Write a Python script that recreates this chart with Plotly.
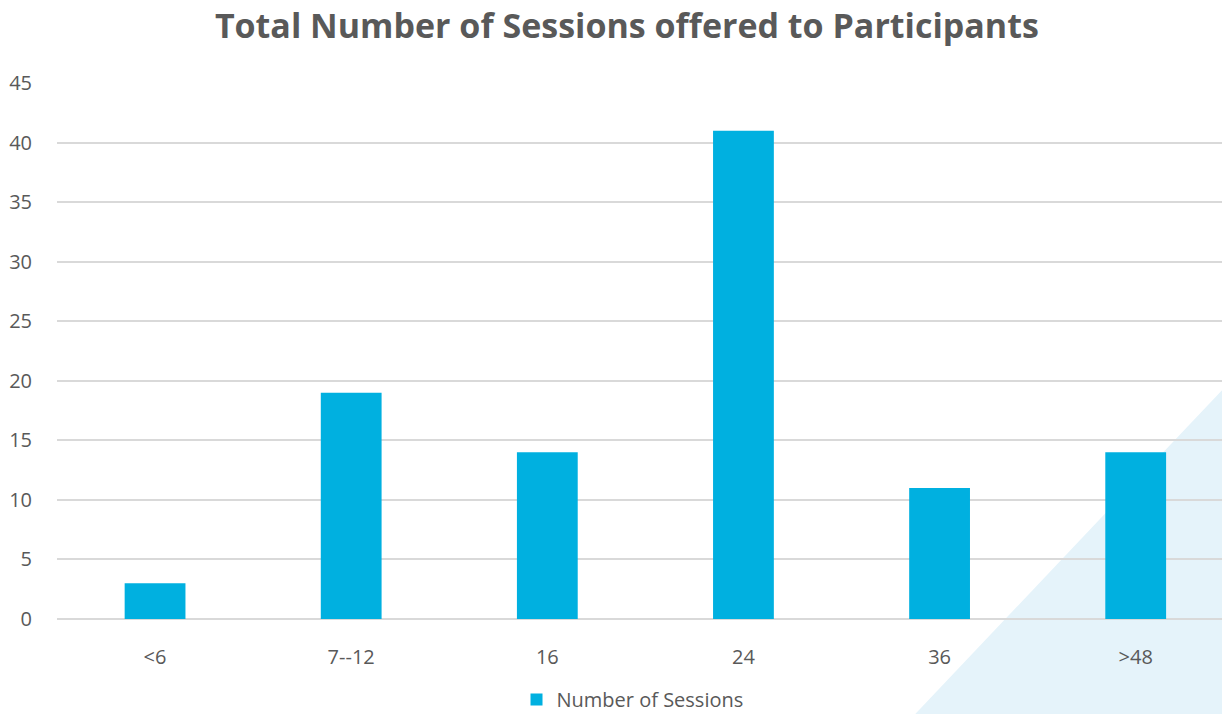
import plotly.graph_objects as go

categories = ["<6", "7--12", "16", "24", "36", ">48"]
sessions = [3, 19, 14, 41, 11, 14]
y_ticks = [0, 5, 10, 15, 20, 25, 30, 35, 40, 45]

fig = go.Figure()
fig.add_trace(go.Bar(
    x=categories, y=sessions, name="Number of Sessions",
    marker=dict(color="#00B0E0", line=dict(width=0)),
))

fig.update_layout(
    width=1222, height=714,
    margin=dict(l=57, r=0, t=83, b=95, autoexpand=False),
    paper_bgcolor="white", plot_bgcolor="rgba(0,0,0,0)",
    bargap=0.69,
    title=dict(text="<b>Total Number of Sessions offered to Participants</b>",
               x=0.513, xanchor="center", y=0.963, yanchor="middle",
               font=dict(family="Open Sans", size=34, color="#595959")),
    font=dict(family="Open Sans", color="#595959", size=20),
    showlegend=True,
    legend=dict(orientation="h", x=0.494, xanchor="center", y=-0.15, yanchor="middle",
                font=dict(size=20, color="#595959"), itemwidth=30),
    shapes=[dict(type="path", xref="paper", yref="paper", layer="below",
                 path="M 0.7355 -0.18 L 1.0 -0.18 L 1.0 0.427 Z",
                 fillcolor="#E5F3FA", line=dict(width=0))],
)
fig.update_xaxes(range=[-0.5, 5.44], showgrid=False, showline=False, zeroline=False,
                 ticks="outside", ticklen=20, tickcolor="rgba(0,0,0,0)",
                 tickfont=dict(size=20, color="#595959"))
fig.update_yaxes(range=[0, 45], tickvals=y_ticks, showgrid=True, gridcolor="#D9D9D9",
                 gridwidth=1.5, zeroline=True, zerolinecolor="#D9D9D9", zerolinewidth=2,
                 showline=False, ticks="outside", ticklen=20, tickcolor="rgba(0,0,0,0)",
                 tickfont=dict(size=20, color="#595959"))

fig.write_html("out.html")
